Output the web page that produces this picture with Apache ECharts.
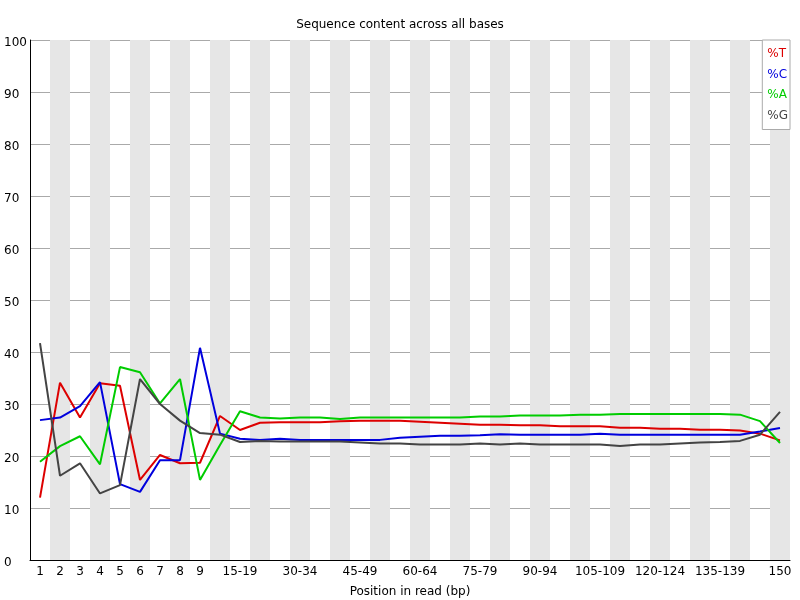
<!DOCTYPE html>
<html>
<head>
<meta charset="utf-8">
<script src="https://cdn.jsdelivr.net/npm/echarts@6/dist/echarts.min.js"></script>
<style>html,body{margin:0;padding:0;background:#fff;}#c{width:800px;height:600px;}</style>
</head>
<body>
<div id="c"></div>
<script>
const categories = ['1','2','3','4','5','6','7','8','9','10-14','15-19','20-24','25-29','30-34','35-39','40-44','45-49','50-54','55-59','60-64','65-69','70-74','75-79','80-84','85-89','90-94','95-99','100-104','105-109','110-114','115-119','120-124','125-129','130-134','135-139','140-144','145-149','150'];
const pctT = [12.0,34.1,27.4,34.0,33.5,15.4,20.2,18.6,18.7,27.7,25.0,26.4,26.5,26.5,26.5,26.7,26.8,26.8,26.8,26.6,26.4,26.2,26.0,26.0,25.9,25.9,25.7,25.7,25.7,25.45,25.45,25.25,25.25,25.06,25.06,24.9,24.3,23.0];
const pctC = [26.9,27.4,29.6,34.2,14.6,13.1,19.2,19.2,40.8,24.3,23.3,23.1,23.3,23.1,23.1,23.1,23.1,23.1,23.5,23.7,23.9,23.9,24.0,24.2,24.1,24.1,24.1,24.1,24.3,24.1,24.1,24.1,24.1,24.1,24.1,24.1,24.7,25.4];
const pctA = [18.9,21.9,23.8,18.4,37.1,36.1,30.1,34.8,15.4,22.1,28.6,27.4,27.2,27.4,27.4,27.1,27.4,27.4,27.4,27.4,27.4,27.4,27.6,27.6,27.8,27.8,27.8,27.95,27.95,28.1,28.1,28.1,28.1,28.1,28.1,27.95,26.7,22.5];
const pctG = [41.7,16.2,18.6,12.8,14.4,34.8,30.0,26.8,24.4,24.1,22.7,22.9,22.8,22.8,22.8,22.8,22.6,22.4,22.4,22.2,22.2,22.2,22.4,22.2,22.4,22.2,22.2,22.2,22.2,21.9,22.2,22.2,22.4,22.6,22.7,22.9,24.1,28.5];
const yTicks = {min:0, max:100, step:10};

const font = 'DejaVu Sans';
const colors = {T:'#dd0000', C:'#0000dd', A:'#00cc00', G:'#444444'};
const chart = echarts.init(document.getElementById('c'));
function mk(name, data, color){
  return {name:name, type:'line', data:data, symbol:'none', lineStyle:{color:color,width:2}, itemStyle:{color:color}, animation:false};
}
chart.setOption({
  animation:false,
  title:{text:'Sequence content across all bases', left:'center', top:14, textStyle:{fontFamily:font,fontSize:12,fontWeight:'normal',color:'#000'}},
  grid:{left:30,right:10,top:40,bottom:40,containLabel:false,outerBoundsMode:'none'},
  legend:{
    orient:'vertical', right:10, top:40, backgroundColor:'#fff', borderColor:'#aaa', borderWidth:1,
    padding:[7,2,8,0], itemGap:7.5, itemWidth:0, itemHeight:14, icon:'none', selectedMode:false,
    textStyle:{fontFamily:font,fontSize:12},
    data:[
      {name:'%T', textStyle:{color:colors.T}},
      {name:'%C', textStyle:{color:colors.C}},
      {name:'%A', textStyle:{color:colors.A}},
      {name:'%G', textStyle:{color:colors.G}}
    ]
  },
  xAxis:{
    type:'category', data:categories, boundaryGap:true,
    name:'Position in read (bp)', nameLocation:'middle', nameGap:26,
    nameTextStyle:{fontFamily:font,fontSize:12,color:'#000'},
    axisLine:{lineStyle:{color:'#000',width:1}},
    axisTick:{show:false},
    axisLabel:{fontFamily:font,fontSize:12,color:'#000',margin:6,
      interval:function(i){return i<9 || (i>=10 && (i-10)%3===0);}},
    splitLine:{show:false},
    splitArea:{show:true, interval:0, areaStyle:{color:['rgba(255,255,255,0)','#e6e6e6']}}
  },
  yAxis:{
    type:'value', min:yTicks.min, max:yTicks.max, interval:yTicks.step,
    axisLine:{show:true,lineStyle:{color:'#000',width:1}},
    axisTick:{show:false},
    axisLabel:{fontFamily:font,fontSize:12,color:'#000',align:'left',margin:26,verticalAlign:'top',lineHeight:5},
    splitLine:{show:true,lineStyle:{color:'#aaaaaa',width:1}}
  },
  series:[mk('%T',pctT,colors.T), mk('%C',pctC,colors.C), mk('%A',pctA,colors.A), mk('%G',pctG,colors.G)]
});
</script>
</body>
</html>
